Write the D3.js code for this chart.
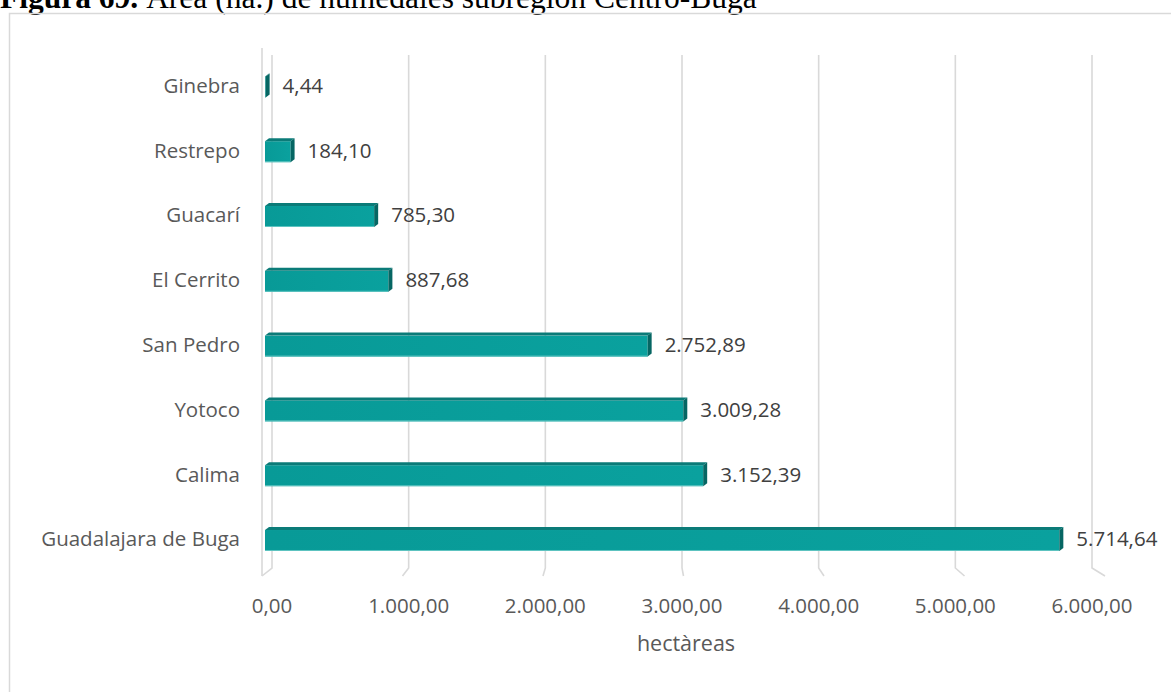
<!DOCTYPE html>
<html><head><meta charset="utf-8">
<script src="https://cdn.jsdelivr.net/npm/d3@7"></script>
<style>body{margin:0;background:#fff}svg{display:block}</style>
</head><body>
<svg id="c" width="1171" height="692"></svg>
<script>
const categories = ["Ginebra","Restrepo","Guacarí","El Cerrito","San Pedro","Yotoco","Calima","Guadalajara de Buga"];
const values = [4.44,184.10,785.30,887.68,2752.89,3009.28,3152.39,5714.64];
const valueLabels = ["4,44","184,10","785,30","887,68","2.752,89","3.009,28","3.152,39","5.714,64"];
const tickValues = [0,1000,2000,3000,4000,5000,6000];
const tickLabels = ["0,00","1.000,00","2.000,00","3.000,00","4.000,00","5.000,00","6.000,00"];
const axisTitle = "hectàreas";

const svg = d3.select("#c");
const font = "'Open Sans', 'Noto Sans', sans-serif";

// title (cut off at top, as in the source page)
const t = svg.append("text").attr("x",0).attr("y",7.5)
  .style("font-family","'Liberation Serif','Times New Roman',serif").style("font-size","31.5px").attr("fill","#000");
t.append("tspan").style("font-weight","bold").text("Figura 69.");
t.append("tspan").text(" Área (ha.) de humedales subregión Centro-Buga");

// frame
svg.append("rect").attr("x",9.5).attr("y",13.5).attr("width",1200).attr("height",700)
  .attr("fill","none").attr("stroke","#d9d9d9").attr("stroke-width",1.5);

// scales: back wall, front floor edge, bars (mid depth)
const xBack = d3.scaleLinear().domain([0,6000]).range([272,1092]);
const xFront = d3.scaleLinear().domain([0,6000]).range([262,1105]);
const xBar = d3.scaleLinear().domain([0,6000]).range([265,1099]);
const y = d3.scaleBand().domain(categories).range([53,571.4]).paddingInner(0.63).paddingOuter(0.315);

const backTop = 55, backBot = 568, frontBot = 576;
const grid = svg.append("g").attr("stroke","#d9d9d9").attr("stroke-width",1.6).attr("fill","none");
grid.append("line").attr("x1",xFront(0)).attr("x2",xFront(0)).attr("y1",48).attr("y2",frontBot);
tickValues.forEach(v=>{
  grid.append("path").attr("d",`M${xBack(v)},${backTop}L${xBack(v)},${backBot}L${xFront(v)},${frontBot}`);
});

// tick labels
svg.append("g").selectAll("text").data(tickValues).join("text")
  .attr("x",d=>xBack(d)).attr("y",613).attr("text-anchor","middle")
  .style("font-family",font).style("font-size","20.5px").attr("fill","#595959")
  .text((d,i)=>tickLabels[i]);
svg.append("text").attr("x",686).attr("y",651).attr("text-anchor","middle")
  .style("font-family",font).style("font-size","21.5px").attr("fill","#595959").text(axisTitle);

// category labels
svg.append("g").selectAll("text").data(categories).join("text")
  .attr("x",240).attr("y",d=>y(d)+y.bandwidth()/2).attr("dy","0.36em").attr("text-anchor","end")
  .style("font-family",font).style("font-size","20.5px").attr("fill","#595959").text(d=>d);

// gradient
const defs = svg.append("defs");
const g1 = defs.append("linearGradient").attr("id","bf").attr("x1",0).attr("x2",1).attr("y1",0).attr("y2",0);
g1.append("stop").attr("offset","0%").attr("stop-color","#089a97");
g1.append("stop").attr("offset","100%").attr("stop-color","#0aa19e");

const dx = 4, dy = 3;
const bars = svg.append("g").selectAll("g").data(categories).join("g");
bars.each(function(c,i){
  const g = d3.select(this);
  const x0 = xBar(0), x1 = xBar(values[i]);
  const yt = y(c)+dy, h = y.bandwidth()-dy;
  g.append("rect").attr("x",x0).attr("y",yt).attr("width",Math.max(0.6,x1-x0)).attr("height",h).attr("fill","url(#bf)");
  g.append("line").attr("x1",x0).attr("x2",x1).attr("y1",yt+h-0.5).attr("y2",yt+h-0.5).attr("stroke","#5fc4c1").attr("stroke-width",1);
  g.append("path").attr("d",`M${x0},${yt}L${x0+dx},${yt-dy}L${x1+dx},${yt-dy}L${x1},${yt}Z`).attr("fill","#0b7b78");
  g.append("path").attr("d",`M${x1},${yt}L${x1+dx},${yt-dy}L${x1+dx},${yt+h-dy}L${x1},${yt+h}Z`).attr("fill","#066663");
  g.append("text").attr("x",x1+dx+13).attr("y",y(c)+y.bandwidth()/2).attr("dy","0.36em")
    .style("font-family",font).style("font-size","20.5px").attr("fill","#404040").text(valueLabels[i]);
});
</script>
</body></html>
